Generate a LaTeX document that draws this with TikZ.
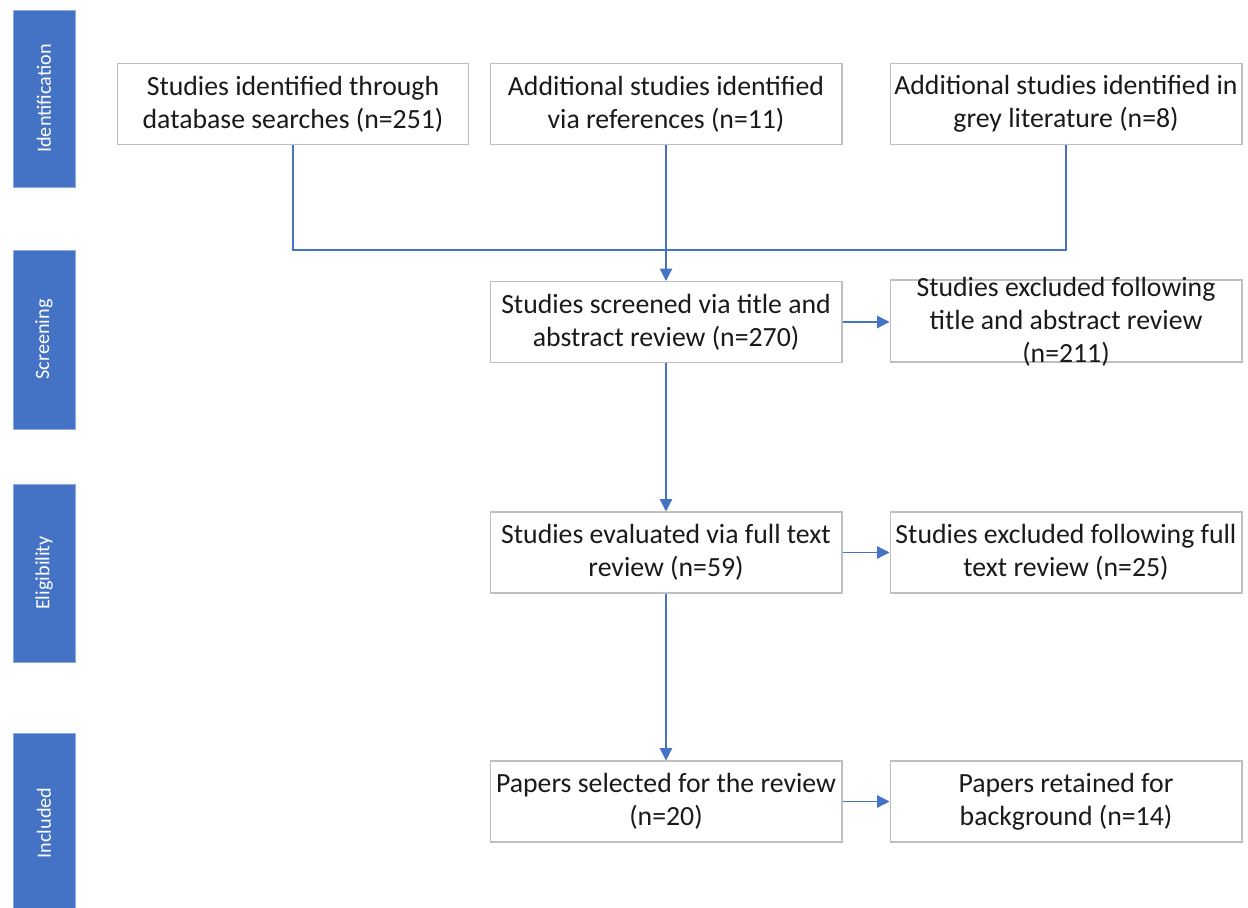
\documentclass[tikz,border=0pt]{standalone}
\usepackage{fontspec}
\setmainfont{Carlito}
\usetikzlibrary{arrows.meta,positioning}
\definecolor{prblue}{HTML}{4472C4}
\definecolor{prgrey}{HTML}{BFBFBF}
\definecolor{prtext}{HTML}{1A1A1A}

\begin{document}
\begin{tikzpicture}[
  x=0.02cm,y=-0.02cm,
  every node/.style={font=\fontsize{15.8}{18.8}\selectfont,text=prtext},
  box/.style={draw=prgrey,line width=0.6pt,fill=white,minimum width=7.04cm,minimum height=1.62cm,align=center,inner sep=2pt},
  stage/.style={draw=prblue!60,fill=prblue,minimum width=1.24cm,align=center,inner sep=0pt},
  stagetext/.style={rotate=90,text=white,font=\fontsize{11.5}{13}\selectfont},
  line/.style={draw=prblue,line width=0.7pt},
  arr/.style={line,-{Triangle[length=7pt,width=7pt]}}
]
\useasboundingbox (0,0) rectangle (1248,908);

% Stages
\node[stage,minimum height=3.54cm] (sid) at (44,98.5) {};
\node[stagetext] (sidtext) at (sid) {Identification};
\node[stage,minimum height=3.58cm] (sscr) at (44,339.5) {};
\node[stagetext] (sscrtext) at (sscr) {Screening};
\node[stage,minimum height=3.56cm] (selg) at (44,573) {};
\node[stagetext] (selgtext) at (selg) {Eligibility};
\node[stage,minimum height=3.6cm] (sinc) at (44,823) {};
\node[stagetext] (sinctext) at (sinc) {Included};

% Identification
\node[box] (db) at (293,104) {Studies identified through\\database searches (n=251)};
\node[box] (ref) at (666,104) {Additional studies identified\\via references (n=11)};
\node[box] (grey) at (1066,104) {Additional studies identified in\\grey literature (n=8)};
\coordinate (merge) at (666,250);

% Screening
\node[box] (scr) at (666,322) {Studies screened via title and\\abstract review (n=270)};
\node[box,minimum height=1.64cm] (exscr) at (1066,321) {};
\node[align=center,inner sep=0pt] (exscrtext) at (1066,322) {Studies excluded following\\title and abstract review\\(n=211)};

% Eligibility
\node[box] (elg) at (666,552.5) {Studies evaluated via full text\\review (n=59)};
\node[box] (exelg) at (1066,552.5) {Studies excluded following full\\text review (n=25)};

% Included
\node[box] (inc) at (666,801.5) {Papers selected for the review\\(n=20)};
\node[box] (ret) at (1066,801.5) {Papers retained for\\background (n=14)};

% Connectors
\draw[line] (db.south) |- (merge);
\draw[line] (grey.south) |- (merge);
\draw[arr] (ref.south) -- (scr.north);
\draw[arr] (scr.east) -- (exscr.west |- scr.east);
\draw[arr] (scr.south) -- (elg.north);
\draw[arr] (elg.east) -- (exelg.west);
\draw[arr] (elg.south) -- (inc.north);
\draw[arr] (inc.east) -- (ret.west);
\end{tikzpicture}
\end{document}
